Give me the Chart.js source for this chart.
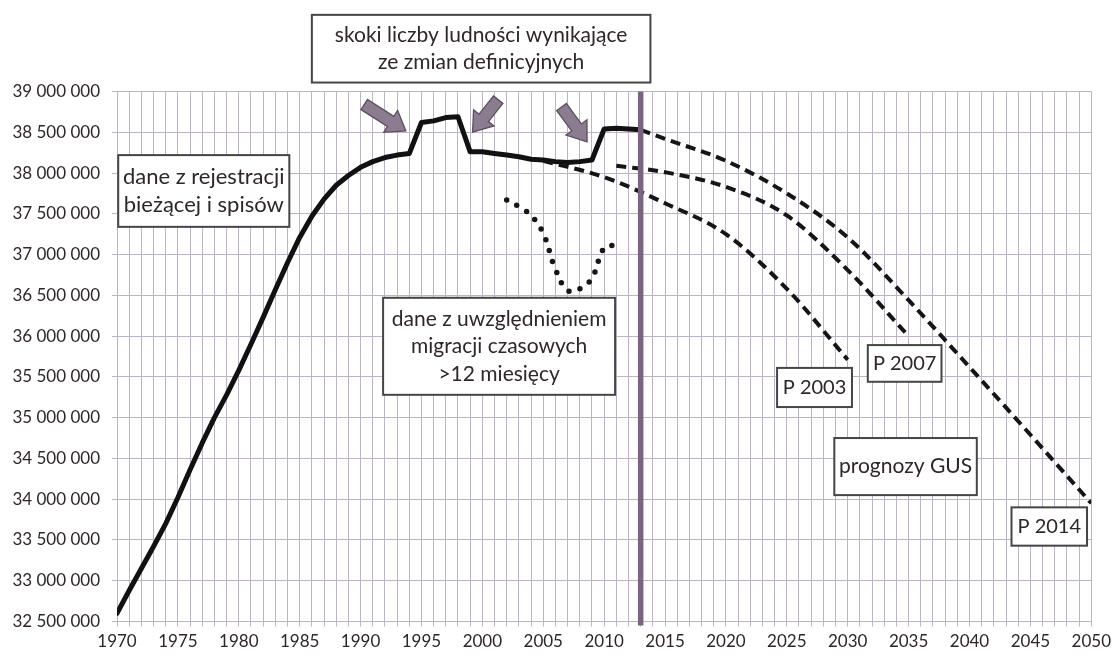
<!DOCTYPE html>
<html>
<head>
<meta charset="utf-8">
<script src="https://cdn.jsdelivr.net/npm/chart.js@4.4.1/dist/chart.umd.min.js"></script>
<style>
  html, body { margin: 0; padding: 0; background: #fff; }
  canvas { display: block; }
</style>
</head>
<body>
<canvas id="popChart" width="1116" height="657"></canvas>
<script>
// Ludność Polski: dane z rejestracji bieżącej i spisów
const mainYears = [1970, 1971, 1972, 1973, 1974, 1975, 1976, 1977, 1978, 1979,
                   1980, 1981, 1982, 1983, 1984, 1985, 1986, 1987, 1988, 1989,
                   1990, 1991, 1992, 1993, 1994, 1995, 1996, 1997, 1998, 1999,
                   2000, 2001, 2002, 2003, 2004, 2005, 2006, 2007, 2008, 2009,
                   2010, 2011, 2012, 2013];
const mainPop = [32600000, 32880000, 33150000, 33420000, 33700000, 34020000, 34360000, 34690000, 35000000, 35280000,
                 35580000, 35900000, 36230000, 36570000, 36900000, 37210000, 37470000, 37680000, 37850000, 37970000,
                 38070000, 38140000, 38190000, 38220000, 38240000, 38620000, 38640000, 38680000, 38690000, 38260000,
                 38260000, 38240000, 38220000, 38200000, 38170000, 38160000, 38140000, 38130000, 38140000, 38160000,
                 38540000, 38550000, 38540000, 38530000];

// dane z uwzględnieniem migracji czasowych > 12 miesięcy
const migYears = [2002, 2003, 2004, 2005, 2006, 2007, 2008, 2009, 2010, 2011];
const migPop = [37670000, 37590000, 37480000, 37260000, 36820000, 36560000, 36580000, 36710000, 37080000, 37120000];

// prognozy GUS
const p2003Years = [2005, 2010, 2015, 2020, 2025, 2030];
const p2003Pop = [38150000, 37950000, 37630000, 37250000, 36580000, 35710000];

const p2007Years = [2011, 2015, 2020, 2025, 2030, 2035];
const p2007Pop = [38090000, 38010000, 37830000, 37480000, 36810000, 36000000];

const p2014Years = [2013, 2015, 2020, 2025, 2030, 2035, 2040, 2045, 2050];
const p2014Pop = [38530000, 38420000, 38150000, 37750000, 37210000, 36440000, 35620000, 34790000, 33950000];

const yTicksMin = 32500000;
const yTicksMax = 39000000;
const yTickStep = 500000;
const xMin = 1970;
const xMax = 2050;
const markerYear = 2013;

const FONT = 'Lato, "Open Sans", sans-serif';
const TEXT = '#2e2629';
const GRID = '#bdb4c3';

const toPoints = (xs, ys) => xs.map((v, i) => ({ x: v, y: ys[i] }));
const spaced = v => String(Math.round(v)).replace(/\B(?=(\d{3})+(?!\d))/g, ' ');

// opisy w ramkach (współrzędne w jednostkach osi: rok, liczba ludności)
const boxes = [
  { x0: 1986.0, x1: 2013.8, y0: 39940000, y1: 39110000, size: 21,
    lines: ['skoki liczby ludności wynikające', 'ze zmian definicyjnych'] },
  { x0: 1970.1, x1: 1984.15, y0: 38220000, y1: 37340000, size: 22,
    lines: ['dane z rejestracji', 'bieżącej i spisów'] },
  { x0: 1991.85, x1: 2010.9, y0: 36470000, y1: 35280000, size: 21,
    lines: ['dane z uwzględnieniem', 'migracji czasowych', '>12 miesięcy'] },
  { x0: 2024.2, x1: 2030.35, y0: 35610000, y1: 35130000, size: 20, lines: ['P 2003'] },
  { x0: 2031.65, x1: 2037.7, y0: 35890000, y1: 35440000, size: 20, lines: ['P 2007'] },
  { x0: 2028.9, x1: 2040.6, y0: 34750000, y1: 34050000, size: 21, lines: ['prognozy GUS'] },
  { x0: 2043.45, x1: 2049.65, y0: 33900000, y1: 33430000, size: 20, lines: ['P 2014'] }
];

// strzałki wskazujące skoki (od, do)
const arrows = [
  { from: [1990.3, 38840000], to: [1993.72, 38516000] },
  { from: [2001.3, 38900000], to: [1999.2, 38503000] },
  { from: [2006.5, 38810000], to: [2008.6, 38381000] }
];

function drawArrow(ctx, x1, y1, x2, y2) {
  const len = Math.hypot(x2 - x1, y2 - y1);
  const ux = (x2 - x1) / len, uy = (y2 - y1) / len;
  const nx = -uy, ny = ux;
  const shaft = 6, head = 13, headLen = 18;
  const bx = x2 - ux * headLen, by = y2 - uy * headLen;
  ctx.beginPath();
  ctx.moveTo(x1 + nx * shaft, y1 + ny * shaft);
  ctx.lineTo(bx + nx * shaft, by + ny * shaft);
  ctx.lineTo(bx + nx * head, by + ny * head);
  ctx.lineTo(x2, y2);
  ctx.lineTo(bx - nx * head, by - ny * head);
  ctx.lineTo(bx - nx * shaft, by - ny * shaft);
  ctx.lineTo(x1 - nx * shaft, y1 - ny * shaft);
  ctx.closePath();
  ctx.fillStyle = '#8b7c91';
  ctx.fill();
  ctx.lineWidth = 1.3;
  ctx.strokeStyle = '#5a4f5e';
  ctx.stroke();
}

const notesPlugin = {
  id: 'notes',
  afterDatasetsDraw(chart) {
    const { ctx, chartArea, scales: { x, y } } = chart;
    ctx.save();

    // pionowa linia - ostatni rok danych
    const mx = x.getPixelForValue(markerYear);
    ctx.strokeStyle = '#7b6480';
    ctx.lineWidth = 5.5;
    ctx.beginPath();
    ctx.moveTo(mx, chartArea.top);
    ctx.lineTo(mx, chartArea.bottom + 4);
    ctx.stroke();

    arrows.forEach(a => drawArrow(ctx,
      x.getPixelForValue(a.from[0]), y.getPixelForValue(a.from[1]),
      x.getPixelForValue(a.to[0]), y.getPixelForValue(a.to[1])));

    ctx.textAlign = 'center';
    ctx.textBaseline = 'middle';
    boxes.forEach(b => {
      const left = x.getPixelForValue(b.x0), right = x.getPixelForValue(b.x1);
      const top = y.getPixelForValue(b.y0), bottom = y.getPixelForValue(b.y1);
      ctx.fillStyle = '#fff';
      ctx.fillRect(left, top, right - left, bottom - top);
      ctx.strokeStyle = '#454545';
      ctx.lineWidth = 2;
      ctx.strokeRect(left, top, right - left, bottom - top);
      ctx.fillStyle = TEXT;
      ctx.font = b.size + 'px ' + FONT;
      const lh = 27.5;
      const cy = (top + bottom) / 2 - (b.lines.length - 1) * lh / 2;
      b.lines.forEach((t, i) => ctx.fillText(t, (left + right) / 2, cy + i * lh));
    });
    ctx.restore();
  }
};

const dashed = {
  borderColor: '#151515',
  borderWidth: 4,
  borderDash: [10, 6],
  pointRadius: 0,
  fill: false,
  cubicInterpolationMode: 'monotone'
};

new Chart(document.getElementById('popChart'), {
  type: 'line',
  data: {
    datasets: [
      { ...dashed, label: 'P 2003', data: toPoints(p2003Years, p2003Pop) },
      { ...dashed, label: 'P 2007', data: toPoints(p2007Years, p2007Pop) },
      { ...dashed, label: 'P 2014', data: toPoints(p2014Years, p2014Pop) },
      {
        label: 'migracje czasowe',
        data: toPoints(migYears, migPop),
        borderColor: '#151515',
        borderWidth: 5.5,
        borderDash: [0, 11.5],
        borderCapStyle: 'round',
        pointRadius: 0,
        tension: 0.4
      },
      {
        label: 'rejestracja bieżąca i spisy',
        data: toPoints(mainYears, mainPop),
        borderColor: '#111',
        borderWidth: 5,
        borderJoinStyle: 'round',
        borderCapStyle: 'round',
        pointRadius: 0,
        tension: 0
      }
    ]
  },
  options: {
    responsive: false,
    animation: false,
    layout: { padding: { top: 91.5, right: 21, left: 0, bottom: 0 } },
    plugins: { legend: { display: false }, tooltip: { enabled: false } },
    scales: {
      x: {
        type: 'linear',
        min: xMin,
        max: xMax,
        afterFit: s => { s.height = 35.5; },
        grid: { color: GRID, lineWidth: 1, tickLength: 5, tickColor: GRID },
        border: { color: GRID },
        ticks: {
          stepSize: 1,
          autoSkip: false,
          maxRotation: 0,
          padding: 5,
          color: TEXT,
          font: { family: FONT, size: 17 },
          callback: v => (v % 5 === 0 ? String(v) : '')
        }
      },
      y: {
        min: yTicksMin,
        max: yTicksMax,
        afterFit: s => { s.width = 117; },
        grid: { color: GRID, lineWidth: 1, tickLength: 5, tickColor: GRID },
        border: { color: GRID },
        ticks: {
          stepSize: yTickStep,
          padding: 12,
          color: TEXT,
          font: { family: FONT, size: 17 },
          callback: v => spaced(v)
        }
      }
    }
  },
  plugins: [notesPlugin]
});
</script>
</body>
</html>
